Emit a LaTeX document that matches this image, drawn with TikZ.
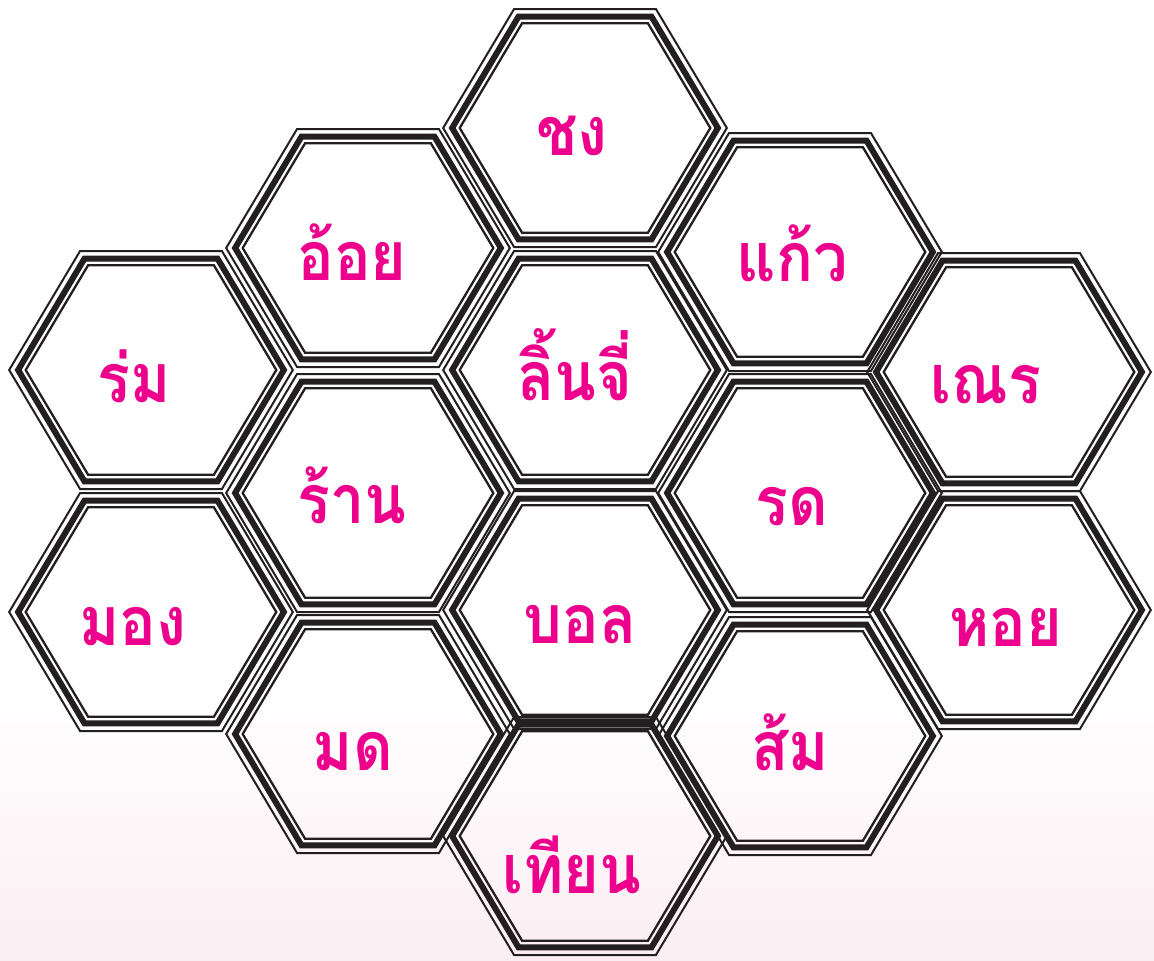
\documentclass[tikz,border=0pt]{standalone}
\usepackage{fontspec}
\newfontfamily\thaifont[Script=Thai, FakeStretch=0.9]{Loma}
\usepackage{tikz}
\usetikzlibrary{positioning}
\definecolor{ink}{HTML}{231F20}
\definecolor{wordpink}{HTML}{EC008C}
\definecolor{bgpink}{HTML}{FBEEF3}

\begin{document}
\begin{tikzpicture}[
  x=1pt, y=-1pt,
  word/.style={text=wordpink, font=\thaifont\bfseries\fontsize{68}{68}\selectfont,
    inner sep=0pt, anchor=base},
  ring/.style={draw=ink, line join=miter},
  pics/hexcell/.style={code={
    \foreach \d/\lw in {1/2, 8.7/6, 15.2/2.3}
      \draw[ring, line width=\lw pt]
        (-143+1.164*\d,0) -- (-71.5+0.568*\d,-120+\d) -- (71.5-0.568*\d,-120+\d)
        -- (143-1.164*\d,0) -- (71.5-0.568*\d,120-\d) -- (-71.5+0.568*\d,120-\d) -- cycle;
  }},
]
  \useasboundingbox (0,0) rectangle (1154,961);
  \fill[white] (0,0) rectangle (1154,690);
  \shade[top color=white, bottom color=bgpink] (0,690) rectangle (1154,961);

  % column 1
  \pic at (151,370) {hexcell};
  \node[word] (rom) at (134,402) {ร่ม};
  \pic at (151,612) {hexcell};
  \node[word] (mong) at (133,645) {มอง};

  % column 2
  \pic at (368,248) {hexcell};
  \node[word] (oi) at (352,280) {อ้อย};
  \pic at (368,493) {hexcell};
  \node[word] (ran) at (352,523) {ร้าน};
  \pic at (368,734) {hexcell};
  \node[word] (mot) at (353,770) {มด};

  % column 3
  \pic at (585,128) {hexcell};
  \node[word] (chong) at (572,155) {ชง};
  \pic at (585,370) {hexcell};
  \node[word] (linchi) at (575,400) {ลิ้นจี่};
  \pic at (585,610) {hexcell};
  \node[word] (bon) at (580,643) {บอล};
  \pic at (585,836) {hexcell};
  \node[word] (thian) at (572,893) {เทียน};

  % column 4
  \pic at (800,252) {hexcell};
  \node[word] (kaeo) at (792,281) {แก้ว};
  \pic at (800,493) {hexcell};
  \node[word] (rot) at (792,525) {รด};
  \pic at (800,736) {hexcell};
  \node[word] (som) at (790,770) {ส้ม};

  % column 5
  \pic at (1009,372) {hexcell};
  \node[word] (nen) at (986,403) {เณร};
  \pic at (1009,610) {hexcell};
  \node[word] (hoi) at (1006,646) {หอย};
\end{tikzpicture}
\end{document}
